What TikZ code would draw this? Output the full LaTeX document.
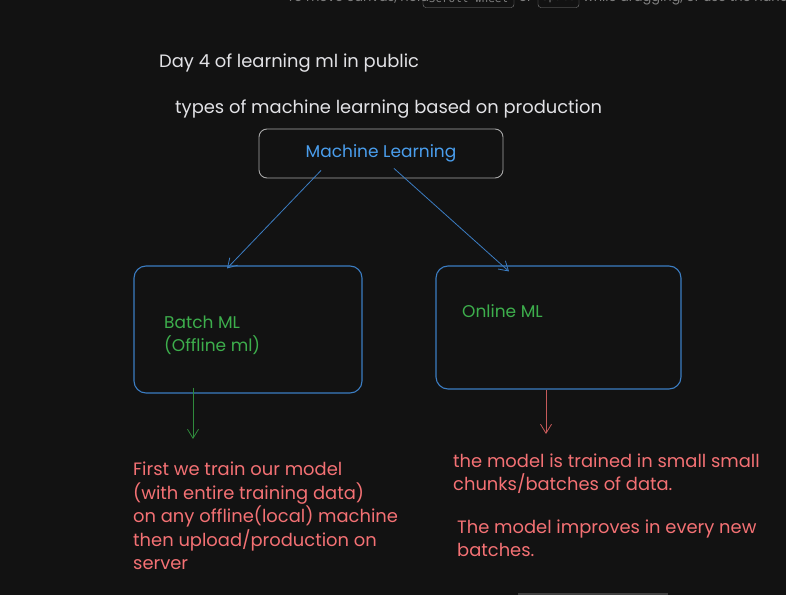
\documentclass[tikz,border=0pt]{standalone}
\usepackage{fontspec}
\setmainfont{Poppins}
\setmonofont{DejaVu Sans Mono}
\usepackage{tikz}
\usetikzlibrary{positioning,arrows.meta,calc}
\definecolor{canvas}{HTML}{121212}
\definecolor{hintgray}{HTML}{808080}
\definecolor{titlewhite}{HTML}{E2E2E6}
\definecolor{mlgray}{HTML}{A8A8A8}
\definecolor{mlblue}{HTML}{4A9EED}
\definecolor{boxblue}{HTML}{3B7DC2}
\definecolor{textgreen}{HTML}{3DAE4C}
\definecolor{arrowgreen}{HTML}{2F8A3C}
\definecolor{notered}{HTML}{F47174}
\definecolor{arrowred}{HTML}{C65A5A}
\newcommand{\handfont}{\fontsize{17}{23.5}\selectfont}
\newcommand{\notefont}{\fontsize{17.9}{23.5}\selectfont}
\tikzstyle{mlbox} = [draw=boxblue, line width=1.1pt, rounded corners=12pt,
    inner sep=0pt]
\tikzstyle{hand} = [align=left, inner sep=0pt, font=\handfont]
\tikzstyle{note} = [align=left, inner sep=0pt, font=\notefont, anchor=west]
\tikzstyle{link} = [line width=0.8pt, -{Straight Barb[length=9pt,width=11pt]}]
\tikzstyle{keycap} = [draw=hintgray, rounded corners=3pt, text=hintgray,
    font=\ttfamily\fontsize{11}{12}\selectfont, minimum height=19pt, inner xsep=3pt]

\begin{document}
\begin{tikzpicture}[x=1pt,y=1pt]
\useasboundingbox (0,0) rectangle (786,595);
\fill[canvas] (0,0) rectangle (786,595);
\clip (0,0) rectangle (786,595);
% canvas hint, cut at the top edge
\node[hand, text=hintgray, font=\fontsize{13}{14}\selectfont, anchor=west] (hint1) at (287,597) {To move canvas, hold};
\node[keycap, minimum width=91pt] (wheel) at (468.5,597) {Scroll wheel};
\node[hand, text=hintgray, font=\fontsize{13}{14}\selectfont] (hint2) at (525.5,597) {or};
\node[keycap, minimum width=41pt] (space) at (558.5,597) {Space};
\node[hand, text=hintgray, font=\fontsize{13}{14}\selectfont, anchor=west] (hint3) at (583,597) {while dragging, or use the hand tool};
\draw[line width=2pt, draw=black!75!white] (518,1) -- (668,1);

\node[note, text=titlewhite] (day) at (159,532) {Day 4 of learning ml in public};
\node[note, text=titlewhite] (types) at (175,486) {types of machine learning based on production};

\node[draw=mlgray, line width=0.9pt, rounded corners=8pt, minimum width=244pt,
    minimum height=49pt, text=mlblue, font=\handfont] (ml) at (381,441.5) {Machine Learning};
\node[mlbox, minimum width=228pt, minimum height=127pt] (batch) at (248,265.5) {};
\node[mlbox, minimum width=245pt, minimum height=123pt] (online) at (558.5,267.5) {};

\node[hand, text=textgreen, anchor=west] (batchtext) at (164,259.5) {Batch ML\\(Offline ml)};
\node[hand, text=textgreen, anchor=west] (onlinetext) at (462,284) {Online ML};

\draw[link, draw=boxblue] ($(ml.south)+(-60,8)$) -- ($(batch.north)+(-21,-3)$);
\draw[link, draw=boxblue] ($(ml.south)+(13,10)$) -- ($(online.north)+(-49.5,-6)$);

\coordinate (batchend) at (193,156);
\coordinate (onlineend) at (546,161);
\draw[link, draw=arrowgreen] ($(batch.south)+(-55,6)$) -- (batchend);
\draw[link, draw=arrowred] ($(online.south)+(-12.5,0)$) -- (onlineend);

\node[note, text=notered] (batchnote) at (133,79) {First we train our model\\(with entire training data)\\on any offline(local) machine\\then upload/production on\\server};
\node[note, text=notered] (onlinenote) at (453,121.5) {the model is trained in small small\\chunks/batches of data.};
\node[note, text=notered] (improvenote) at (457,56.5) {The model improves in every new\\batches.};
\end{tikzpicture}
\end{document}
